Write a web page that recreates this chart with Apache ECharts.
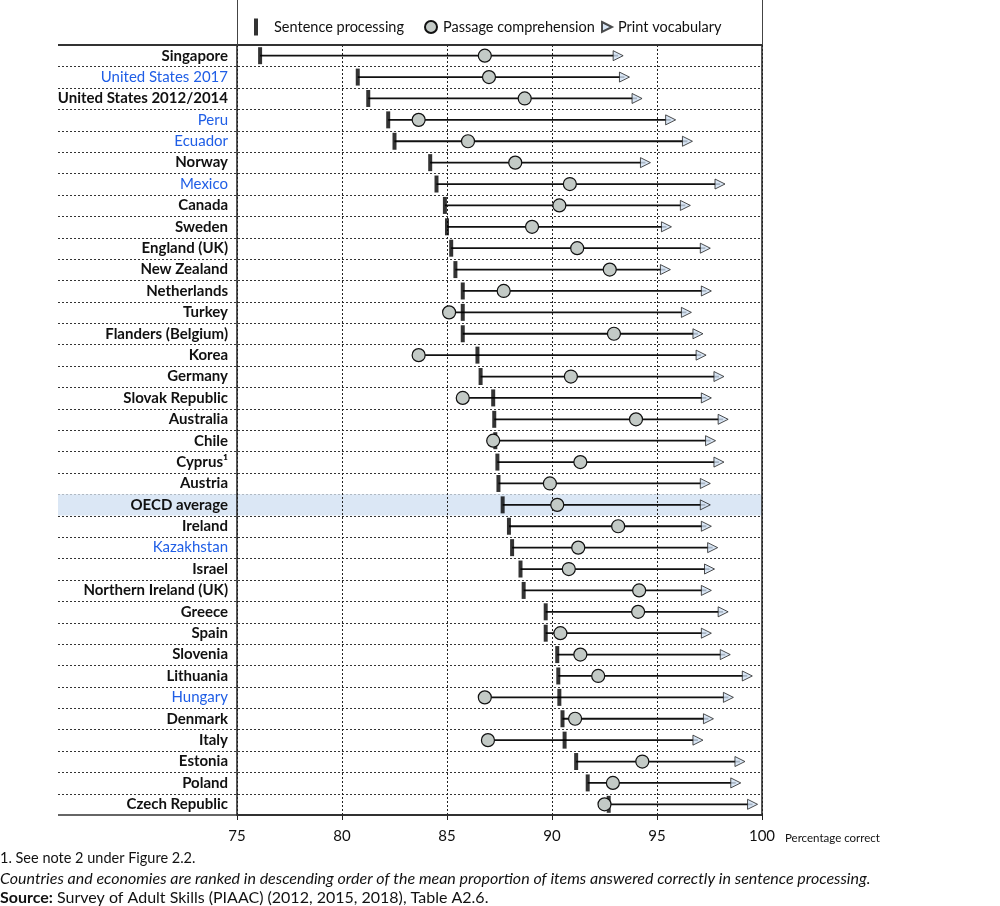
<!DOCTYPE html>
<html><head><meta charset="utf-8">
<script src="https://cdn.jsdelivr.net/npm/echarts@6/dist/echarts.min.js"></script>
<style>html,body{margin:0;padding:0;background:#fff}#c{width:1000px;height:906px}</style>
</head><body><div id="c"></div>
<script>
const categories = ['Singapore','United States 2017','United States 2012/2014','Peru','Ecuador','Norway','Mexico','Canada','Sweden','England (UK)','New Zealand','Netherlands','Turkey','Flanders (Belgium)','Korea','Germany','Slovak Republic','Australia','Chile','Cyprus¹','Austria','OECD average','Ireland','Kazakhstan','Israel','Northern Ireland (UK)','Greece','Spain','Slovenia','Lithuania','Hungary','Denmark','Italy','Estonia','Poland','Czech Republic'];
const sentenceProcessing = [76.1,80.75,81.25,82.2,82.5,84.2,84.5,84.9,85.0,85.2,85.4,85.75,85.75,85.75,86.45,86.6,87.2,87.25,87.3,87.4,87.45,87.65,87.95,88.1,88.5,88.65,89.7,89.7,90.25,90.3,90.35,90.5,90.6,91.15,91.7,92.7];
const passageComprehension = [86.8,87.0,88.7,83.65,86.0,88.25,90.85,90.35,89.05,91.2,92.75,87.7,85.1,92.95,83.65,90.9,85.75,94.0,87.2,91.35,89.9,90.25,93.15,91.25,90.8,94.15,94.1,90.4,91.35,92.2,86.8,91.1,86.95,94.3,92.9,92.5];
const printVocabulary = [93.15,93.45,94.05,95.65,96.45,94.45,98.0,96.35,95.45,97.3,95.4,97.35,96.4,96.95,97.1,97.95,97.35,98.15,97.55,97.95,97.3,97.3,97.35,97.65,97.5,97.35,98.15,97.35,98.25,99.3,98.4,97.45,96.95,98.95,98.75,99.55];
const blueNames = ['United States 2017','Peru','Ecuador','Mexico','Kazakhstan','Hungary'];
const highlightName = 'OECD average';
const seriesNames = ['Sentence processing','Passage comprehension','Print vocabulary'];
const axisName = 'Percentage correct';
const notes = ['1. See note 2 under Figure 2.2.',
  'Countries and economies are ranked in descending order of the mean proportion of items answered correctly in sentence processing.',
  'Survey of Adult Skills (PIAAC) (2012, 2015, 2018), Table A2.6.'];

const FONT = 'Lato, "Noto Sans", sans-serif';
const GL = 237, GR = 762, GT = 45, GB = 815, LL = 58, W = 1000, H = 906;
const TRI = 'path://M0,0 L10,5 L0,10 Z';

const chart = echarts.init(document.getElementById('c'));
const legTxt = pad => ({fontSize: 14.5, color: '#111', fontFamily: FONT, lineHeight: 18, padding: [0, 0, 0, pad]});
const option = {
  animation: false,
  textStyle: {fontFamily: FONT},
  grid: {left: GL, right: W - GR, top: GT, bottom: H - GB, show: true, borderColor: '#222', borderWidth: 1.5, backgroundColor: 'transparent'},
  xAxis: {type: 'value', min: 75, max: 100, interval: 5,
    axisLine: {show: true, lineStyle: {color: '#222', width: 1.5}},
    axisTick: {show: true, length: 5, lineStyle: {color: '#222'}},
    axisLabel: {fontSize: 15, color: '#111', margin: 14, fontFamily: FONT},
    splitLine: {show: true, lineStyle: {color: '#222', type: [2, 2], width: 1}}},
  yAxis: {type: 'category', data: categories, inverse: true,
    axisLine: {show: false}, axisTick: {show: false}, splitLine: {show: false},
    axisLabel: {margin: 9, formatter: v => blueNames.includes(v) ? '{b|' + v + '}' : '{k|' + v + '}',
      rich: {k: {fontSize: 15, fontWeight: 'bold', color: '#111', fontFamily: FONT},
             b: {fontSize: 15, color: '#1f5ee6', fontFamily: FONT}}}},
  legend: [
    {data: [{name: seriesNames[0], icon: 'rect'}], left: 249, top: 13, itemWidth: 4, itemHeight: 17, selectedMode: false, textStyle: legTxt(11)},
    {data: [{name: seriesNames[1], icon: 'circle'}], left: 419, top: 13, itemWidth: 12, itemHeight: 12, selectedMode: false, textStyle: legTxt(1)},
    {data: [{name: seriesNames[2], icon: TRI}], left: 596, top: 13, itemWidth: 10, itemHeight: 10, selectedMode: false, textStyle: legTxt(1)}
  ],
  series: [
    {type: 'custom', name: 'rows', z: -1, silent: true,
      data: categories.map((c, i) => [75, i]), encode: {x: 0, y: 1},
      renderItem(params, api) {
        const i = api.value(1);
        const p = api.coord([75, i]);
        const pr = api.coord([100, i]);
        const h = api.size([0, 1])[1];
        const ch = [];
        if (categories[i] === highlightName)
          ch.push({type: 'rect', shape: {x: LL, y: p[1] - h / 2, width: pr[0] - LL, height: h}, style: {fill: '#dbe7f5'}});
        if (i < categories.length - 1) {
          const y = Math.round(p[1] + h / 2) + 0.5;
          ch.push({type: 'line', shape: {x1: LL, y1: y, x2: pr[0], y2: y}, style: {stroke: '#333', lineWidth: 1, lineDash: [2, 2]}});
        }
        return {type: 'group', children: ch};
      }},
    {type: 'custom', name: 'span', z: 2, silent: true,
      data: categories.map((c, i) => [Math.min(sentenceProcessing[i], passageComprehension[i]), i, printVocabulary[i]]),
      encode: {x: [0, 2], y: 1},
      renderItem(params, api) {
        const a = api.coord([api.value(0), api.value(1)]);
        const b = api.coord([api.value(2), api.value(1)]);
        return {type: 'line', shape: {x1: a[0], y1: a[1], x2: b[0], y2: b[1]}, style: {stroke: '#111', lineWidth: 1.8}};
      }},
    {type: 'scatter', name: seriesNames[2], z: 3, symbol: TRI, symbolSize: [10, 10],
      itemStyle: {color: '#cfe0f3', borderColor: '#222', borderWidth: 1},
      data: printVocabulary.map((v, i) => [v, i])},
    {type: 'scatter', name: seriesNames[0], z: 4, symbol: 'rect', symbolSize: [4, 17],
      itemStyle: {color: '#000'},
      data: sentenceProcessing.map((v, i) => [v, i])},
    {type: 'scatter', name: seriesNames[1], z: 5, symbol: 'circle', symbolSize: 13,
      itemStyle: {color: '#c3cac6', borderColor: '#111', borderWidth: 1.2, opacity: 1},
      data: passageComprehension.map((v, i) => [v, i])}
  ],
  graphic: [
    {type: 'line', shape: {x1: LL, y1: GT, x2: GR, y2: GT}, style: {stroke: '#333', lineWidth: 2}, z: 10},
    {type: 'line', shape: {x1: LL, y1: GB, x2: GR, y2: GB}, style: {stroke: '#333', lineWidth: 1.5}, z: 10},
    {type: 'line', shape: {x1: GL + 0.5, y1: 0, x2: GL + 0.5, y2: GT}, style: {stroke: '#444', lineWidth: 1}, z: 10},
    {type: 'line', shape: {x1: GR + 0.5, y1: 0, x2: GR + 0.5, y2: GT}, style: {stroke: '#444', lineWidth: 1}, z: 10},
    {type: 'text', x: 785, y: 838, style: {text: axisName, fontSize: 11.5, fill: '#111', fontFamily: FONT, verticalAlign: 'middle'}},
    {type: 'text', x: 0, y: 858, style: {text: notes[0], fontSize: 14.5, fill: '#111', fontFamily: FONT, verticalAlign: 'middle'}},
    {type: 'text', x: 0, y: 879, style: {text: notes[1], fontSize: 16, fontStyle: 'italic', fill: '#111', fontFamily: FONT, verticalAlign: 'middle'}},
    {type: 'text', x: 0, y: 898, style: {text: '{s|Source:} ' + notes[2], fontSize: 16, fill: '#111', fontFamily: FONT, verticalAlign: 'middle',
      rich: {s: {fontWeight: 'bold', fontSize: 16, fill: '#111', fontFamily: FONT}}}}
  ]
};
chart.setOption(option);
</script></body></html>
